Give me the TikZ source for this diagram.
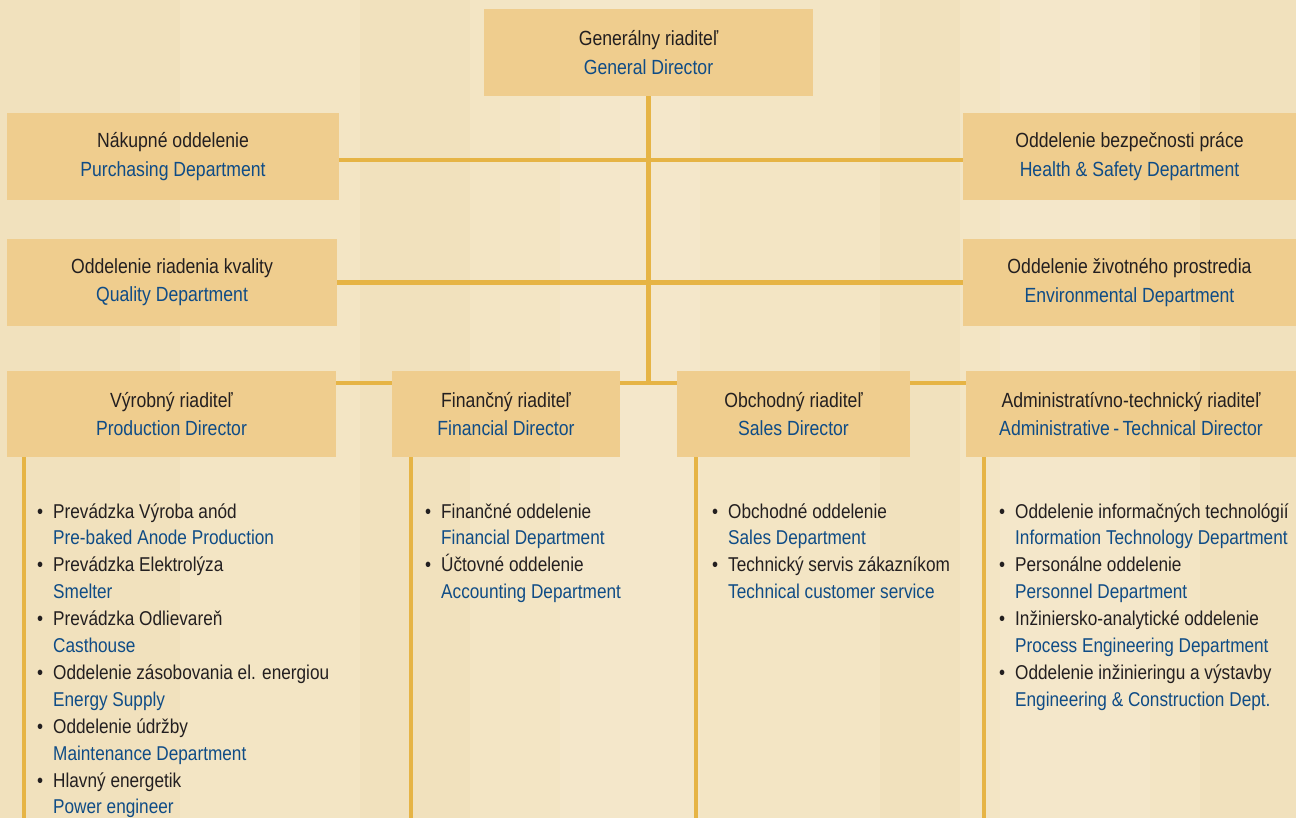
\documentclass[tikz,border=0pt]{standalone}
\usepackage{fontspec}
\setmainfont{Liberation Sans}[FakeStretch=0.86]
\definecolor{bgc}{HTML}{F3E5C4}
\definecolor{streak}{HTML}{E9D4A2}
\definecolor{pale}{HTML}{FAF3E2}
\definecolor{boxc}{HTML}{EFCD8E}
\definecolor{linec}{HTML}{E6B445}
\definecolor{txtc}{HTML}{231F20}
\definecolor{bluec}{HTML}{0F4C86}
\newcommand{\en}[1]{\textcolor{bluec}{#1}}
\newcommand{\bul}{\llap{\textbullet\hspace{10pt}}}
\begin{document}
\begin{tikzpicture}[x=1pt,y=-1pt,
  box/.style={fill=boxc, inner sep=0pt, align=center, text=txtc,
    font=\fontsize{20.5}{28.3}\selectfont, minimum height=87pt},
  conn/.style={draw=linec, line width=4.5pt},
  list/.style={anchor=base west, inner sep=0pt, text=txtc,
    font=\fontsize{20}{26.9}\selectfont}]
% background
\fill[bgc] (0,0) rectangle (1296,818);
\useasboundingbox (0,0) rectangle (1296,818);
\begin{scope}[opacity=0.2]
  \fill[streak] (0,0) rectangle (180,818);
  \fill[streak] (360,0) rectangle (470,818);
  \fill[pale] (560,0) rectangle (700,818);
  \fill[streak] (880,0) rectangle (960,818);
  \fill[pale] (1000,0) rectangle (1150,818);
  \fill[streak] (1200,0) rectangle (1296,818);
\end{scope}
% boxes
\node[box, minimum width=329pt] (gd) at (648.5,52.5)
  {Generálny riaditeľ\\\en{General Director}};
\node[box, minimum width=332pt] (purch) at (173,156.5)
  {Nákupné oddelenie\\\en{Purchasing Department}};
\node[box, minimum width=333pt] (hs) at (1129.5,156.5)
  {Oddelenie bezpečnosti práce\\\en{Health \& Safety Department}};
\node[box, minimum width=330pt] (qual) at (172,282.5)
  {Oddelenie riadenia kvality\\\en{Quality Department}};
\node[box, minimum width=333pt] (env) at (1129.5,282.5)
  {Oddelenie životného prostredia\\\en{Environmental Department}};
\node[box, minimum width=329pt, minimum height=86pt] (prod) at (171.5,414)
  {Výrobný riaditeľ\\\en{Production Director}};
\node[box, minimum width=228pt, minimum height=86pt] (fin) at (506,414)
  {Finančný riaditeľ\\\en{Financial Director}};
\node[box, minimum width=233pt, minimum height=86pt] (sales) at (793.5,414)
  {Obchodný riaditeľ\\\en{Sales Director}};
\node[box, minimum width=330pt, minimum height=86pt] (admin) at (1131,414)
  {Administratívno-technický riaditeľ\\\en{Administrative\,-\,Technical Director}};
% connectors
\coordinate (j3) at (648.5,383);
\coordinate (bottom) at (0,818);
\draw[conn] (gd.south) -- (j3);
\draw[conn] ([yshift=-3.5pt]purch.east) -- ([yshift=-3.5pt]hs.west);
\draw[conn] (qual.east) -- (env.west);
\draw[conn] (prod.east |- j3) -- (fin.west |- j3);
\draw[conn] (fin.east |- j3) -- (sales.west |- j3);
\draw[conn] (sales.east |- j3) -- (admin.west |- j3);
\coordinate (pl) at ([xshift=17pt]prod.south west);
\coordinate (fl) at ([xshift=19pt]fin.south west);
\coordinate (sl) at ([xshift=19pt]sales.south west);
\coordinate (al) at ([xshift=18pt]admin.south west);
\draw[conn] (pl) -- (pl |- bottom);
\draw[conn] (fl) -- (fl |- bottom);
\draw[conn] (sl) -- (sl |- bottom);
\draw[conn] (al) -- (al |- bottom);
% lists
\node[list] (plist) at (53,518) {\begin{tabular}[t]{@{}l@{}}
\bul Prevádzka Výroba anód\\
\en{Pre-baked Anode Production}\\
\bul Prevádzka Elektrolýza\\
\en{Smelter}\\
\bul Prevádzka Odlievareň\\
\en{Casthouse}\\
\bul Oddelenie zásobovania el. energiou\\
\en{Energy Supply}\\
\bul Oddelenie údržby\\
\en{Maintenance Department}\\
\bul Hlavný energetik\\
\en{Power engineer}
\end{tabular}};
\node[list] (flist) at (441,518) {\begin{tabular}[t]{@{}l@{}}
\bul Finančné oddelenie\\
\en{Financial Department}\\
\bul Účtovné oddelenie\\
\en{Accounting Department}
\end{tabular}};
\node[list] (slist) at (728,518) {\begin{tabular}[t]{@{}l@{}}
\bul Obchodné oddelenie\\
\en{Sales Department}\\
\bul Technický servis zákazníkom\\
\en{Technical customer service}
\end{tabular}};
\node[list] (alist) at (1015,518) {\begin{tabular}[t]{@{}l@{}}
\bul Oddelenie informačných technológií\\
\en{Information Technology Department}\\
\bul Personálne oddelenie\\
\en{Personnel Department}\\
\bul Inžiniersko-analytické oddelenie\\
\en{Process Engineering Department}\\
\bul Oddelenie inžinieringu a výstavby\\
\en{Engineering \& Construction Dept.}
\end{tabular}};
\end{tikzpicture}
\end{document}
